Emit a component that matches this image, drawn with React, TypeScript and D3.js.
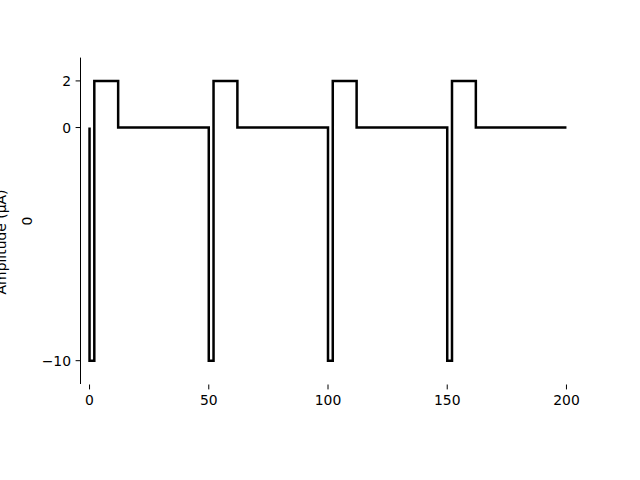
import React, { useEffect, useRef } from "react";
import * as d3 from "d3";

// step waveform vertices (time, amplitude), drawn with curveStepAfter
const times = [0, 0, 2, 12, 50, 52, 62, 100, 102, 112, 150, 152, 162, 200];
const amps = [0, -10, 2, 0, -10, 2, 0, -10, 2, 0, -10, 2, 0, 0];
const xTicks = [0, 50, 100, 150, 200];
const yTicks = [-10, 0, 2];

const W = 640;
const H = 480;

const App: React.FC = () => {
  const ref = useRef<SVGSVGElement>(null);

  useEffect(() => {
    if (!ref.current) return;
    const svg = d3.select(ref.current);
    svg.selectAll("*").remove();

    const font = "DejaVu Sans, sans-serif";
    const x = d3.scaleLinear().domain([-4, 204]).range([80, 576]);
    const y = d3.scaleLinear().domain([-11, 3]).range([384, 57.6]);

    // left spine
    svg
      .append("line")
      .attr("x1", 80.5)
      .attr("x2", 80.5)
      .attr("y1", y(3))
      .attr("y2", y(-11))
      .attr("stroke", "#000")
      .attr("stroke-width", 1);

    // y ticks
    const yt = svg.append("g");
    yTicks.forEach((t) => {
      yt.append("line")
        .attr("x1", 75.6)
        .attr("x2", 80.5)
        .attr("y1", y(t))
        .attr("y2", y(t))
        .attr("stroke", "#000");
      yt.append("text")
        .attr("x", 71)
        .attr("y", y(t) + 5)
        .attr("text-anchor", "end")
        .attr("font-family", font)
        .attr("font-size", 13.9)
        .text(d3.format("")(t).replace("-", "\u2212"));
    });

    // x ticks (no bottom spine)
    const xt = svg.append("g");
    xTicks.forEach((t) => {
      xt.append("line")
        .attr("x1", x(t))
        .attr("x2", x(t))
        .attr("y1", 384.5)
        .attr("y2", 389.4)
        .attr("stroke", "#000");
      xt.append("text")
        .attr("x", x(t))
        .attr("y", 404.5)
        .attr("text-anchor", "middle")
        .attr("font-family", font)
        .attr("font-size", 13.9)
        .text(String(t));
    });

    // waveform
    const pts = times.map((t, i) => [t, amps[i]] as [number, number]);
    const line = d3
      .line<[number, number]>()
      .x((d) => x(d[0]))
      .y((d) => y(d[1]))
      .curve(d3.curveStepAfter);
    svg
      .append("path")
      .attr("d", line(pts) || "")
      .attr("fill", "none")
      .attr("stroke", "#000")
      .attr("stroke-width", 2.5);

    // y label, partly cut off at the left edge as in the reference
    svg
      .append("text")
      .attr("transform", `translate(6,242) rotate(-90)`)
      .attr("text-anchor", "middle")
      .attr("font-family", font)
      .attr("font-size", 13.9)
      .text("Amplitude (\u00b5A)");

    svg
      .append("text")
      .attr("transform", `translate(32,221) rotate(-90)`)
      .attr("text-anchor", "middle")
      .attr("font-family", font)
      .attr("font-size", 13.9)
      .text("0");
  }, []);

  return (
    <svg
      ref={ref}
      width={W}
      height={H}
      style={{ position: "absolute", left: 0, top: 0, background: "#fff" }}
    />
  );
};

export default App;
